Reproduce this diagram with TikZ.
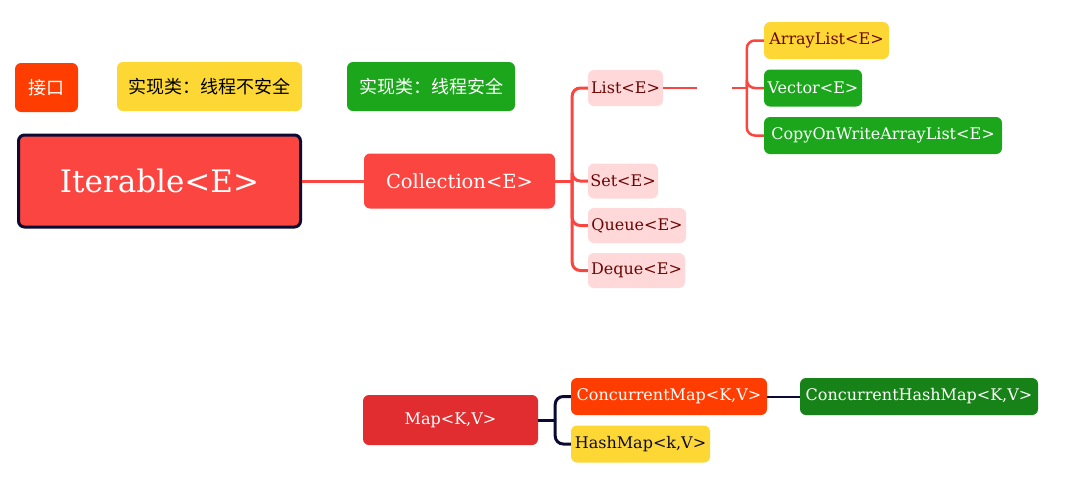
\documentclass[tikz,border=0pt]{standalone}
\usepackage{fontspec}
\setmainfont{DejaVu Serif}
\newfontfamily\cjk{Noto Sans CJK SC}
\usepackage{tikz}
\usetikzlibrary{positioning}
\definecolor{ifacered}{HTML}{FF3D00}
\definecolor{unsafeyellow}{HTML}{FDD835}
\definecolor{safegreen}{HTML}{1BA61B}
\definecolor{deepgreen}{HTML}{178217}
\definecolor{rootred}{HTML}{FA4540}
\definecolor{mapred}{HTML}{E22D30}
\definecolor{pinkfill}{HTML}{FFD9D9}
\definecolor{darkred}{HTML}{6B0505}
\definecolor{navy}{HTML}{0A0A33}
\tikzset{
    box/.style={
                rounded corners=6pt,
                inner sep=0pt,
                text centered,
                font=\fontsize{16}{19}\selectfont
            },
        legend/.style={
                box,
                minimum height=49pt,
                font=\cjk\fontsize{18}{22}\selectfont
            },
        topic/.style={
                box,
                fill=rootred,
                draw=navy,
                line width=3pt,
                text=white,
                font=\fontsize{31}{36}\selectfont
            },
        subtopic/.style={
                box,
                text=white,
                font=\fontsize{19.5}{23}\selectfont
            },
        theme/.style={
                box,
                fill=pinkfill,
                text=darkred,
                minimum height=35pt
            },
        description/.style={
                box,
                minimum height=37pt
            },
        branch/.style={line width=3pt, color=rootred, rounded corners=8pt},
        mapbranch/.style={line width=3pt, color=navy, rounded corners=8pt},
}

\begin{document}
\begin{tikzpicture}[x=1pt,y=-1pt]
  \useasboundingbox (0,0) rectangle (1079,488);
  % Legend
  \node[legend, fill=ifacered, text=white, minimum width=63pt] (iface) at (46.5,87.5) {接口};
  \node[legend, fill=unsafeyellow, text=black, minimum width=185pt] (unsafe) at (209.5,86.5) {实现类：线程不安全};
  \node[legend, fill=safegreen, text=white, minimum width=168pt] (safe) at (431,86.5) {实现类：线程安全};
  % Topic
  \node[topic, minimum width=282pt, minimum height=92pt] (iterable) at (159.5,181) {Iterable<E>};
  % Subtopic and Themes
  \node[subtopic, fill=rootred, minimum width=191pt, minimum height=55pt] (collection) at (459.5,181) {Collection<E>};
  \node[theme, minimum width=75pt, minimum height=36pt] (list) at (625.5,88) {List<E>};
  \node[theme, minimum width=70pt] (set) at (623,181) {Set<E>};
  \node[theme, minimum width=98pt] (queue) at (637,225.5) {Queue<E>};
  \node[theme, minimum width=97pt] (deque) at (636.5,270.5) {Deque<E>};
  % List implementations
  \node[description, fill=unsafeyellow, text=darkred, minimum width=125pt] (arraylist) at (826.5,40.5) {ArrayList<E>};
  \node[description, fill=safegreen, text=white, minimum width=98pt] (vector) at (813,88) {Vector<E>};
  \node[description, fill=safegreen, text=white, minimum width=238pt] (cowlist) at (883,135.5) {CopyOnWriteArrayList<E>};
  % Map
  \node[subtopic, fill=mapred, minimum width=175pt, minimum height=50pt, font=\fontsize{16}{19}\selectfont] (map) at (450.5,420) {Map<K,V>};
  \node[description, fill=ifacered, text=white, minimum width=196pt] (cmap) at (669,396.5) {ConcurrentMap<K,V>};
  \node[description, fill=unsafeyellow, text=navy, minimum width=139pt] (hashmap) at (640.5,444) {HashMap<k,V>};
  \node[description, fill=deepgreen, text=white, minimum width=238pt] (chmap) at (919,396.5) {ConcurrentHashMap<K,V>};

  % Branches
  \coordinate (cbus) at ([xshift=17pt]collection.east);
  \coordinate (listgap) at ([xshift=34pt]list.east);
  \coordinate (listjoin) at ([xshift=69pt]list.east);
  \coordinate (lbus) at ([xshift=-17pt]vector.west);
  \coordinate (mbus) at ([xshift=17pt]map.east);
  \draw[branch] (iterable.east) -- (collection.west);
  \draw[branch] (collection.east) -- (cbus);
  \foreach \kind in {list,set,queue,deque}
    \draw[branch] (cbus) |- (\kind.west);
  \draw[branch, line width=2.5pt] (list.east) -- (listgap);
  \draw[branch, line width=2.5pt] (listjoin) -- (lbus);
  \foreach \impl in {arraylist,vector,cowlist}
    \draw[branch, line width=2.5pt] (lbus) |- (\impl.west);
  \draw[mapbranch] (map.east) -- (mbus);
  \foreach \impl in {cmap,hashmap}
    \draw[mapbranch] (mbus) |- (\impl.west);
  \draw[navy, line width=2pt] (cmap.east) -- (chmap.west);
\end{tikzpicture}
\end{document}
